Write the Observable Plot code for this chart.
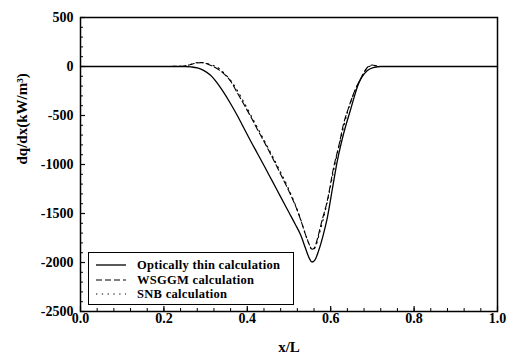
<!DOCTYPE html>
<html>
<head>
<meta charset="utf-8">
<script src="https://cdn.jsdelivr.net/npm/d3@7"></script>
<script src="https://cdn.jsdelivr.net/npm/@observablehq/plot@0.6"></script>
<style>
  html, body { margin: 0; padding: 0; background: white; }
  #wrap { position: relative; width: 518px; height: 357px; }
  #legend {
    position: absolute; left: 88px; top: 252px; width: 204px; height: 51px;
    border: 1px solid black; background: white;
    font-family: "Liberation Serif", "DejaVu Serif", serif; font-weight: bold; font-size: 12.5px;
    box-sizing: content-box;
  }
  .row { position: absolute; left: 0; height: 14px; display: flex; align-items: center; }
  .row svg { margin-left: 7px; margin-right: 11px; }
  .row span { line-height: 14px; white-space: nowrap; letter-spacing: 0.3px; }
</style>
</head>
<body>
<div id="wrap"></div>
<script>
// ---- data ----
const thinX = [0, 0.1, 0.2, 0.25, 0.265, 0.28, 0.295, 0.312, 0.328, 0.343, 0.36, 0.376, 0.392, 0.408, 0.424, 0.44, 0.46, 0.48, 0.50, 0.515, 0.528, 0.54, 0.548, 0.555, 0.562, 0.571, 0.582, 0.592, 0.604, 0.616, 0.631, 0.647, 0.667, 0.688, 0.705, 0.72, 0.8, 0.9, 1.0];
const thinY = [0, 0, 0, 0, -4, -14, -40, -90, -170, -262, -380, -500, -630, -760, -885, -1010, -1170, -1330, -1490, -1610, -1720, -1860, -1950, -1995, -1975, -1880, -1720, -1541, -1250, -960, -684, -449, -173, -41, -8, 0, 0, 0, 0];

const wsggmX = [0, 0.1, 0.2, 0.24, 0.26, 0.275, 0.288, 0.3, 0.31, 0.319, 0.34, 0.36, 0.375, 0.391, 0.408, 0.424, 0.44, 0.456, 0.472, 0.487, 0.503, 0.52, 0.53, 0.54, 0.548, 0.555, 0.561, 0.568, 0.578, 0.592, 0.607, 0.62, 0.631, 0.643, 0.655, 0.666, 0.676, 0.685, 0.692, 0.7, 0.71, 0.72, 0.8, 0.9, 1.0];
const wsggmY = [0, 0, 0, 2, 15, 32, 40, 32, 15, 0, -60, -150, -260, -380, -510, -640, -765, -895, -1030, -1160, -1300, -1470, -1590, -1720, -1810, -1865, -1850, -1760, -1590, -1367, -1030, -800, -582, -420, -276, -170, -92, -25, 5, 15, 5, 0, 0, 0, 0];

const snbX = [0, 0.1, 0.2, 0.25, 0.27, 0.285, 0.3, 0.315, 0.325, 0.345, 0.365, 0.39, 0.42, 0.45, 0.48, 0.496, 0.516, 0.528, 0.54, 0.548, 0.556, 0.563, 0.572, 0.582, 0.595, 0.61, 0.625, 0.64, 0.655, 0.67, 0.685, 0.695, 0.71, 0.72, 0.8, 0.9, 1.0];
const snbY = [0, 0, 0, 5, 30, 42, 35, 15, 0, -70, -170, -350, -590, -830, -1080, -1220, -1420, -1560, -1720, -1810, -1870, -1845, -1720, -1560, -1320, -1000, -720, -470, -280, -140, -30, 5, 8, 0, 0, 0, 0];

const seriesNames = ["Optically thin calculation", "WSGGM calculation", "SNB calculation"];
const xTicks = [0, 0.2, 0.4, 0.6, 0.8, 1.0];
const yTicks = [500, 0, -500, -1000, -1500, -2000, -2500];
const xLabel = "x/L";
const yLabel = "dq/dx(kW/m³)";

const dashes = [null, "6,3", "1.3,4.5"];

const series = [
  thinX.map((x, i) => ({x, y: thinY[i]})),
  wsggmX.map((x, i) => ({x, y: wsggmY[i]})),
  snbX.map((x, i) => ({x, y: snbY[i]}))
];

const xMinor = d3.range(0, 1.0001, 0.04);
const yMinor = d3.range(-2500, 501, 100);

const W = 518, H = 357, mL = 80, mR = 21, mT = 17, mB = 46;
const pw = W - mL - mR, ph = H - mT - mB;
const font = "Liberation Serif, DejaVu Serif, serif";

const chart = Plot.plot({
  width: W, height: H,
  marginLeft: mL, marginRight: mR, marginTop: mT, marginBottom: mB,
  style: {fontFamily: font, fontWeight: "bold", fontSize: "14px", background: "white", color: "black"},
  x: {domain: [0, 1]},
  y: {domain: [-2500, 500]},
  marks: [
    // ticks (inward)
    Plot.tickX(xTicks, {x: d => d, insetTop: ph - 5, strokeWidth: 1.2}),
    Plot.tickX(xMinor, {x: d => d, insetTop: ph - 3, strokeWidth: 1}),
    Plot.tickY(yTicks, {y: d => d, insetRight: pw - 5, strokeWidth: 1.2}),
    Plot.tickY(yMinor, {y: d => d, insetRight: pw - 3, strokeWidth: 1}),
    // tick labels
    Plot.axisX({ticks: xTicks, tickSize: 0, tickPadding: 2, tickFormat: d3.format(".1f"), label: null}),
    Plot.axisY({ticks: yTicks, tickSize: 0, tickPadding: 7, tickFormat: d => String(d), label: null}),
    // curves
    ...series.map((s, i) => Plot.line(s, {x: "x", y: "y", curve: "monotone-x", stroke: "black",
      strokeWidth: i === 0 ? 1.3 : 1.1, strokeDasharray: dashes[i]})),
    Plot.frame({stroke: "black", strokeWidth: 1.5}),
    // axis titles
    Plot.text([yLabel], {text: d => d, frameAnchor: "left", dx: -58, rotate: -90, fontSize: 15, fontWeight: "bold"}),
    Plot.text([xLabel], {text: d => d, frameAnchor: "bottom", dy: 40, fontSize: 15, fontWeight: "bold"})
  ]
});

const wrap = document.getElementById("wrap");
wrap.appendChild(chart);

// legend inside the plot frame
const legend = document.createElement("div");
legend.id = "legend";
const rowTops = [5, 19.5, 34];
seriesNames.forEach((name, i) => {
  const row = document.createElement("div");
  row.className = "row";
  row.style.top = rowTops[i] + "px";
  const dash = dashes[i] ? ` stroke-dasharray="${dashes[i]}"` : "";
  row.innerHTML = `<svg width="30" height="6"><line x1="0" y1="3" x2="30" y2="3" stroke="black" stroke-width="${i === 0 ? 1.3 : 1.1}"${dash}/></svg><span>${name}</span>`;
  legend.appendChild(row);
});
wrap.appendChild(legend);
</script>
</body>
</html>
